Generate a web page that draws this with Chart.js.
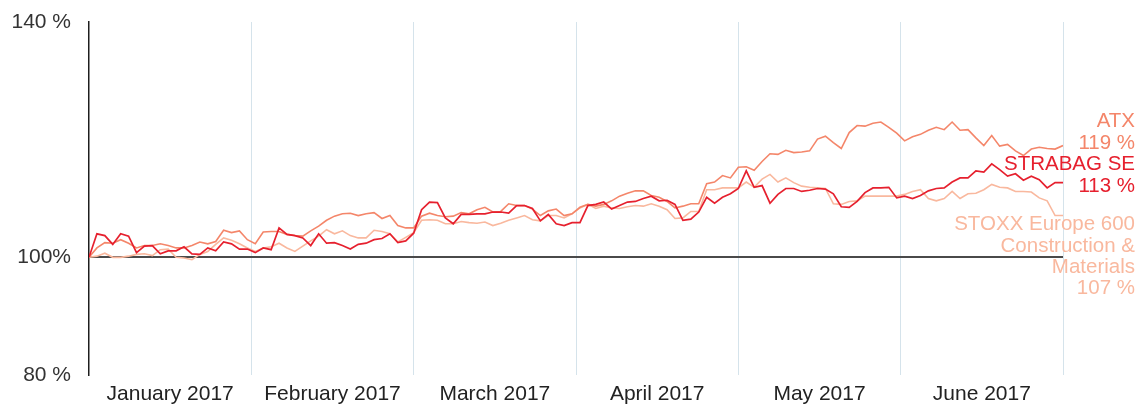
<!DOCTYPE html>
<html>
<head>
<meta charset="utf-8">
<script src="https://cdn.jsdelivr.net/npm/chart.js@4.4.0/dist/chart.umd.min.js"></script>
<style>
html, body { margin: 0; padding: 0; background: #fff; }
</style>
</head>
<body>
<canvas id="canvas" width="1138" height="405"></canvas>
<script>
// month labels under the x axis
var months = ["January 2017", "February 2017", "March 2017", "April 2017", "May 2017", "June 2017"];

// series names (last line with the end value is added when drawing)
var strabagLabel = ["STRABAG SE"];
var atxLabel = ["ATX"];
var stoxxLabel = ["STOXX Europe 600", "Construction &", "Materials"];

// indexed performance in %, start = 100
var strabag = [
	100, 104, 103.7, 102.2, 104, 103.6, 100.8, 101.9, 102, 100.6, 101.1, 101.1, 101.8, 100.6, 100.5, 101.6,
	101.1, 102.6, 102.3, 101.4, 101.4, 100.8, 101.6, 101.3, 105, 103.9, 103.7, 103.3, 102, 104, 102.4,
	102.5, 102, 101.4, 102.2, 102.4, 103, 103.2, 104, 102.5, 102.8, 104.1, 108.1, 109.4, 109.3, 106.7, 105.7,
	107.3, 107.3, 107.4, 107.4, 107.7, 107.7, 107.5, 108.8, 108.8, 108.3, 106.2, 107.3, 105.7, 105.4, 105.9, 105.9, 108.8,
	109, 109.4, 108.2, 108.8, 109.4, 109.5, 110, 110.4, 109.6, 109.7, 109, 106.3, 106.5, 107.7, 110.2, 109.2, 110.2, 110.8,
	111.7, 114.7, 111.9, 112.2, 109.2, 110.7, 111.7, 111.7, 111.2, 111.4, 111.7, 111.6, 110.8, 108.6, 108.5, 109.5,
	111, 111.8, 111.8, 111.9, 110.1, 110.4, 110, 110.5, 111.3, 111.7, 111.8, 112.8, 113.5, 113.5, 114.7, 114.5,
	115.9, 114.9, 113.8, 114.2, 113.1, 113.8, 113.2, 111.8, 112.7, 112.7
];
var atx = [
	100, 101.6, 102.5, 102.4, 103, 102.4, 101.6, 102, 102, 102.3, 102, 101.6, 101.6, 102, 102.6, 102.3,
	102.7, 104.6, 104.2, 104.5, 103, 102.3, 104.3, 104.4, 104.4, 103.9, 103.7, 103.6, 104.5, 105.3, 106.3,
	107, 107.4, 107.5, 107.1, 107.4, 107.6, 106.6, 107.1, 105.4, 105, 105, 107, 107.5, 107.1, 106.9, 107,
	107.6, 107.4, 108.1, 108.5, 107.7, 107.8, 109.1, 108.8, 108.8, 108.2, 107.1, 107.9, 108.2, 107.1, 107.4, 108.5, 109,
	108.7, 109, 109.6, 110.4, 110.9, 111.3, 111.3, 110.5, 110.2, 109.5, 108.4, 108.7, 109.1, 109.1, 112.5, 112.8, 113.9, 113.5,
	115.3, 115.4, 114.8, 116.3, 117.6, 117.5, 118.2, 117.8, 117.9, 118.1, 120.1, 120.6, 119.5, 118.5, 121.2, 122.4,
	122.3, 122.8, 123, 122.1, 121.1, 119.8, 120.5, 120.9, 121.6, 122.1, 121.7, 123, 121.6, 121.7, 120.3, 119,
	120.7, 118.9, 119.2, 118.1, 117.3, 118.4, 118.7, 118.5, 118.4, 119
];
var stoxx = [
	100, 100.2, 100.7, 100, 100, 100.2, 100.5, 100.6, 100.3, 101.3, 101.4, 100, 99.9, 99.6, 100.5, 101,
	102.2, 103.3, 102.9, 102.3, 101.6, 101, 101.6, 101.8, 102.4, 101.6, 101, 101.9, 102.8, 103.6, 104.7,
	104, 104.5, 103.7, 103.3, 103.3, 104.6, 104.4, 104, 102.6, 103.4, 104.2, 106.3, 106.4, 106.3, 105.7, 105.7,
	106.1, 105.9, 105.8, 106, 105.4, 105.8, 106.3, 106.7, 107.1, 106.4, 106.2, 107.1, 107.1, 106.7, 107.4, 108.4, 109,
	108.3, 108.7, 108.4, 108.3, 108.6, 108.8, 108.7, 109.1, 108.7, 108.1, 106.6, 106.7, 107.8, 107.8, 111.5, 111.5, 111.8, 111.8,
	111.8, 112.8, 111.9, 113.3, 114.1, 112.8, 113.5, 112.7, 112.1, 111.9, 111.8, 111.7, 109.1, 109, 109.5, 109.6,
	110.4, 110.4, 110.4, 110.4, 110.4, 110.7, 111.2, 111.5, 110, 109.6, 110, 111.2, 110, 110.8, 110.9, 111.5,
	112.4, 111.9, 111.8, 111.2, 111.2, 111.1, 110.1, 109.6, 107.1, 107.1
];

var yTicks = [80, 100, 140];

var colStrabag = "#e6202e";
var colAtx = "#f4866a";
var colStoxx = "#f9b89e";
var gridColor = "#d5e3eb";
var fontFamily = '"Liberation Sans", Arial, Helvetica, sans-serif';

function toPoints(arr) {
	var pts = [];
	for (var i = 0; i < arr.length; i++) {
		pts.push({ x: i, y: arr[i] });
	}
	return pts;
}

var lastIndex = strabag.length - 1;
var monthStep = lastIndex / months.length;

// text next to the line ends
var endLabelLines = [strabagLabel, atxLabel, stoxxLabel];
var endLabelShift = [-18, -24, 9];
var endLineHeight = 21.3;

var endLabels = {
	id: "endLabels",
	afterDatasetsDraw: function(chart) {
		var ctx = chart.ctx;
		var yScale = chart.scales.y;
		ctx.save();
		ctx.font = "20.5px " + fontFamily;
		ctx.textAlign = "right";
		ctx.textBaseline = "middle";
		chart.data.datasets.forEach(function(ds, i) {
			var last = ds.data[ds.data.length - 1].y;
			var lines = endLabelLines[i].concat([Math.round(last) + " %"]);
			var top = yScale.getPixelForValue(last) + endLabelShift[i];
			ctx.fillStyle = ds.borderColor;
			for (var k = 0; k < lines.length; k++) {
				ctx.fillText(lines[k], 1135, top + k * endLineHeight);
			}
		});
		ctx.restore();
	}
};

var ctx = document.getElementById("canvas").getContext("2d");
window.myLine = new Chart(ctx, {
	type: "line",
	data: {
		datasets: [
			{ label: "STRABAG SE", data: toPoints(strabag), borderColor: colStrabag, borderWidth: 1.7 },
			{ label: "ATX", data: toPoints(atx), borderColor: colAtx, borderWidth: 1.6 },
			{ label: "STOXX Europe 600 Construction & Materials", data: toPoints(stoxx), borderColor: colStoxx, borderWidth: 1.6 }
		]
	},
	options: {
		responsive: false,
		animation: false,
		devicePixelRatio: 1,
		layout: { padding: { top: 22, right: 75, left: 0, bottom: 0 } },
		elements: {
			point: { radius: 0 },
			line: { tension: 0, fill: false }
		},
		plugins: {
			legend: { display: false },
			tooltip: { enabled: false },
			title: { display: false }
		},
		scales: {
			x: {
				type: "linear",
				min: 0,
				max: lastIndex,
				afterBuildTicks: function(scale) {
					var ticks = [];
					for (var k = 0; k <= months.length * 2; k++) {
						ticks.push({ value: k * monthStep / 2 });
					}
					scale.ticks = ticks;
				},
				afterFit: function(scale) {
					scale.height = 30;
					scale.paddingLeft = 0;
					scale.paddingRight = 0;
				},
				border: { display: false },
				grid: {
					drawTicks: false,
					lineWidth: 1,
					color: function(c) {
						return (c.index % 2 === 0 && c.index > 0) ? gridColor : "rgba(0,0,0,0)";
					}
				},
				ticks: {
					autoSkip: false,
					maxRotation: 0,
					minRotation: 0,
					padding: 7,
					color: "#222",
					font: { family: fontFamily, size: 21 },
					callback: function(v, i) {
						return i % 2 === 1 ? months[(i - 1) / 2] : "";
					}
				}
			},
			y: {
				min: 80,
				max: 140,
				afterBuildTicks: function(scale) {
					scale.ticks = yTicks.map(function(v) { return { value: v }; });
				},
				afterFit: function(scale) {
					scale.width = 89;
					scale.paddingTop = 0;
					scale.paddingBottom = 0;
				},
				border: { display: true, color: "#1e1e1e", width: 1.5 },
				grid: {
					drawTicks: false,
					lineWidth: 2,
					color: function(c) {
						return c.tick && c.tick.value === 100 ? "#4a4a4a" : "rgba(0,0,0,0)";
					}
				},
				ticks: {
					padding: 18,
					color: "#333",
					font: { family: fontFamily, size: 21 },
					callback: function(v) {
						return v === 100 ? "100%" : v + " %";
					}
				}
			}
		}
	},
	plugins: [endLabels]
});
</script>
</body>
</html>
